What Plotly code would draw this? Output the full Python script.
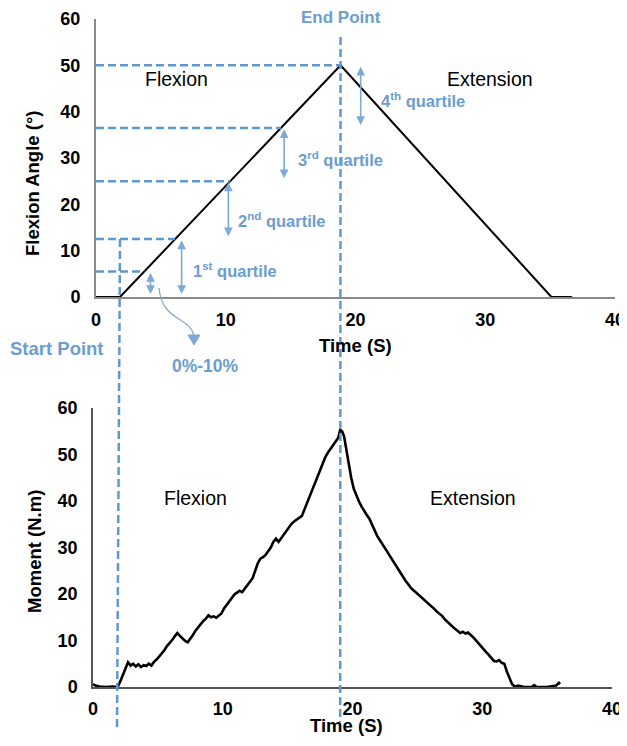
import plotly.graph_objects as go

# ---------------- data ----------------
angle_time = [0, 1.85, 18.85, 35.1, 36.7]
angle_deg = [0, 0, 50, 0, 0]

quartile_levels = [0, 5.5, 12.5, 25, 36.5, 50]
quartile_labels = ["1<sup>st</sup> quartile", "2<sup>nd</sup> quartile",
                   "3<sup>rd</sup> quartile", "4<sup>th</sup> quartile"]

moment_time = [0.0, 0.2, 0.5, 1.0, 1.5, 1.9, 2.1, 2.3, 2.5, 2.7, 2.9, 3.1, 3.3, 3.5, 3.7, 3.9,
               4.1, 4.3, 4.5, 4.7, 4.9, 5.1, 5.3, 5.5, 5.7, 5.9, 6.1, 6.3, 6.5, 6.7, 6.9, 7.1,
               7.3, 7.5, 7.7, 7.9, 8.1, 8.3, 8.5, 8.7, 8.9, 9.1, 9.3, 9.5, 9.7, 9.9, 10.1, 10.3,
               10.5, 10.7, 10.9, 11.1, 11.3, 11.5, 11.7, 11.9, 12.1, 12.3, 12.5, 12.7, 12.9, 13.1,
               13.3, 13.5, 13.7, 13.9, 14.1, 14.3, 14.5, 14.7, 14.9, 15.1, 15.3, 15.5, 15.7, 15.9,
               16.1, 16.3, 16.5, 16.7, 16.9, 17.1, 17.3, 17.5, 17.7, 17.9, 18.1, 18.3, 18.5, 18.7,
               18.9, 19.05, 19.2, 19.35, 19.5, 19.7, 19.9, 20.1, 20.3, 20.5, 20.7, 20.9, 21.1, 21.3,
               21.5, 21.7, 21.9, 22.1, 22.3, 22.5, 22.7, 22.9, 23.1, 23.3, 23.5, 23.7, 23.9, 24.1,
               24.3, 24.5, 24.7, 24.9, 25.1, 25.3, 25.5, 25.7, 25.9, 26.1, 26.3, 26.5, 26.7, 26.9,
               27.1, 27.3, 27.5, 27.7, 27.9, 28.1, 28.3, 28.5, 28.7, 28.9, 29.1, 29.3, 29.5, 29.7,
               29.9, 30.1, 30.3, 30.5, 30.7, 30.9, 31.1, 31.3, 31.5, 31.7, 31.9, 32.1, 32.3, 32.5,
               32.8, 33.2, 33.8, 34.0, 34.2, 35.0, 35.4, 35.7, 35.9, 36.0]
moment_nm = [0.6, 0.3, 0.1, 0.0, 0.1, 0.0, 1.2, 2.6, 3.8, 5.3, 4.6, 5.0, 4.4, 4.9, 4.3, 4.7,
             4.5, 5.0, 4.6, 5.4, 5.9, 6.5, 7.3, 7.9, 8.8, 9.4, 10.1, 10.9, 11.6, 11.0, 10.4, 9.9,
             9.6, 10.3, 11.2, 12.1, 12.8, 13.6, 14.2, 14.7, 15.4, 15.0, 15.2, 14.9, 15.3, 15.8, 16.9, 17.6,
             18.4, 19.2, 19.9, 20.3, 20.7, 20.4, 21.2, 22.0, 22.6, 23.4, 25.0, 26.6, 27.6, 27.9,
             28.4, 29.1, 30.0, 31.2, 31.9, 31.2, 32.0, 32.9, 33.5, 34.3, 35.1, 35.6, 36.0, 36.3,
             36.8, 38.2, 39.6, 41.0, 42.4, 43.9, 45.3, 46.9, 48.3, 49.4, 50.4, 51.2, 52.1, 53.0,
             53.6, 55.3, 55.0, 53.9, 51.5, 48.0, 45.0, 42.6, 41.1, 39.9, 38.8, 37.8, 37.0, 36.2,
             35.0, 33.6, 32.5, 31.6, 30.8, 30.0, 29.0, 28.1, 27.2, 26.3, 25.4, 24.4, 23.6, 22.8,
             22.1, 21.3, 20.8, 20.3, 19.8, 19.3, 18.9, 18.5, 18.0, 17.3, 16.8, 16.2, 15.8, 15.3,
             14.6, 14.0, 13.4, 13.0, 12.5, 12.0, 11.6, 11.9, 11.5, 11.7, 11.3, 10.7, 10.1, 9.4,
             8.7, 8.0, 7.5, 6.9, 6.2, 5.6, 5.5, 5.8, 5.2, 5.0, 3.3, 1.8, 0.6, 0.1,
             0.3, 0.0, 0.0, 0.4, 0.0, 0.0, 0.2, 0.3, 0.9, 0.6]

x_ticks = [0, 10, 20, 30, 40]
y_ticks = [0, 10, 20, 30, 40, 50, 60]

# ---------------- layout helpers ----------------
# the page body has an 8px margin on every side, so the figure is drawn 8px in from the corner
OFF = 8
W, H = 627 - OFF, 746 - 2 * OFF
PLOT_L, PLOT_R, PLOT_T, PLOT_B = 93, 615, 19, 687   # plot area in window pixels
ML, MT = PLOT_L - OFF, PLOT_T - OFF
PW, PH = PLOT_R - PLOT_L, PLOT_B - PLOT_T
MR, MB = W - ML - PW, H - MT - PH
TOP_XD = [3 / PW, 1.0]
BOT_XD = [0.0, (PW - 3) / PW]
TOP_YD = [390 / PH, 1.0]
BOT_YD = [0.0, 279 / PH]
XR, YR = 40.0, 60.0


def px_x(px):
    return (px - PLOT_L) / PW


def px_y(py):
    return (PLOT_B - py) / PH


def data_px(t, dom):
    return dom[0] + t / XR * (dom[1] - dom[0])


def data_py(v, dom):
    return dom[0] + v / YR * (dom[1] - dom[0])


BLUE = "#5F98CF"
BLUE_T = "#6A9ED2"
BLUE_A = "#7BAAD8"
FONT = "Liberation Sans, Arial, sans-serif"

fig = go.Figure()
fig.add_trace(go.Scatter(x=angle_time, y=angle_deg, mode="lines",
                         line=dict(color="black", width=2), xaxis="x", yaxis="y",
                         showlegend=False, hoverinfo="skip"))
fig.add_trace(go.Scatter(x=moment_time, y=moment_nm, mode="lines",
                         line=dict(color="black", width=2.6), xaxis="x2", yaxis="y2",
                         showlegend=False, hoverinfo="skip"))

start_t, peak_t, peak_v = angle_time[1], angle_time[2], angle_deg[2]
moment_peak_t = moment_time[moment_nm.index(max(moment_nm))]

shapes = []
# horizontal dashed guides to the flexion line
for lv in quartile_levels[1:]:
    xe = start_t + lv / peak_v * (peak_t - start_t)
    shapes.append(dict(type="line", xref="x", yref="y", x0=0, x1=xe, y0=lv, y1=lv,
                       line=dict(color=BLUE, width=2.5, dash="8px,4px"), layer="above"))
# start point vertical line
shapes.append(dict(type="line", xref="paper", yref="paper",
                   x0=data_px(start_t, TOP_XD), y0=data_py(quartile_levels[2], TOP_YD),
                   x1=data_px(start_t, BOT_XD), y1=px_y(730),
                   line=dict(color=BLUE, width=2.5, dash="8px,4px")))
# end point vertical line
shapes.append(dict(type="line", xref="paper", yref="paper",
                   x0=data_px(peak_t, TOP_XD), y0=px_y(37),
                   x1=data_px(moment_peak_t, BOT_XD), y1=px_y(722),
                   line=dict(color=BLUE, width=2.5, dash="8px,4px")))
# curved arrow (0%-10%)
p = [(159, 288), (162, 322), (190, 316), (194, 336)]
path = "M {},{} C {},{} {},{} {},{}".format(*[v for pt in p for v in (px_x(pt[0]), px_y(pt[1]))])
shapes.append(dict(type="path", xref="paper", yref="paper", path=path,
                   line=dict(color="#8FA9C4", width=1.3)))
tri = [(188, 335), (200, 335), (194, 345)]
tpath = "M {},{} L {},{} L {},{} Z".format(*[v for pt in tri for v in (px_x(pt[0]), px_y(pt[1]))])
shapes.append(dict(type="path", xref="paper", yref="paper", path=tpath,
                   fillcolor=BLUE_A, line=dict(color=BLUE_A, width=1)))

ann = []
# double-headed arrows
arrow_x = [4.2, 6.6, 10.2, 14.5, 20.4]
arrow_ranges = [(quartile_levels[0], quartile_levels[1]), (quartile_levels[0], quartile_levels[2]),
                (quartile_levels[2], quartile_levels[3]), (quartile_levels[3], quartile_levels[4]),
                (quartile_levels[4], quartile_levels[5])]
for xa, (lo, hi) in zip(arrow_x, arrow_ranges):
    ann.append(dict(x=xa, y=hi - 0.3, ax=xa, ay=lo + 0.3, xref="x", yref="y", axref="x", ayref="y",
                    text="", showarrow=True, arrowside="end+start", arrowhead=2, arrowsize=1.1,
                    arrowwidth=1.6, arrowcolor=BLUE_A, standoff=0, startstandoff=0))

qfont = dict(family=FONT, size=16.5, color=BLUE_T, weight="bold")
label_pos = [(7.3, 5.8), (10.8, 16.6), (15.4, 29.8), (21.8, 42.5)]
for (xl, yl), txt in zip(label_pos, quartile_labels):
    ann.append(dict(x=xl, y=yl, xref="x", yref="y", text=txt, showarrow=False,
                    xanchor="left", yanchor="middle", font=qfont))


def paper_text(px, py, text, font, angle=0):
    return dict(x=px_x(px), y=px_y(py), xref="paper", yref="paper", text=text,
                xanchor="center", yanchor="middle", textangle=angle,
                showarrow=False, font=font)


ann.append(paper_text(341, 17, "End Point", dict(family=FONT, size=17, color=BLUE_T, weight="bold")))
ann.append(paper_text(57, 348, "Start Point", dict(family=FONT, size=18.5, color=BLUE_T, weight="bold")))
ann.append(paper_text(205, 366, "0%-10%", dict(family=FONT, size=17.5, color=BLUE_T, weight="bold")))

pfont = dict(family=FONT, size=19.5, color="black")
ann.append(dict(x=6.2, y=47, xref="x", yref="y", text="Flexion", showarrow=False, font=pfont))
ann.append(dict(x=30.4, y=47, xref="x", yref="y", text="Extension", showarrow=False, font=pfont))
ann.append(dict(x=7.9, y=40.6, xref="x2", yref="y2", text="Flexion", showarrow=False, font=pfont))
ann.append(dict(x=29.3, y=40.6, xref="x2", yref="y2", text="Extension", showarrow=False, font=pfont))

afont = dict(family=FONT, size=18.5, color="black", weight="bold")
ann.append(paper_text(32, 184, "Flexion Angle (°)", afont, -90))
ann.append(paper_text(34, 552, "Moment (N.m)", afont, -90))
ann.append(paper_text(355, 345, "Time (S)", afont))
ann.append(paper_text(346, 725, "Time (S)", afont))

tickfont = dict(family=FONT, size=18, color="black", weight="bold")


def axis(dom, rng, ticks, anchor, color, width, ticklen):
    return dict(domain=dom, range=rng, tickvals=ticks, showgrid=False, zeroline=False,
                showline=True, linecolor=color, linewidth=width, ticks="outside", ticklen=ticklen,
                tickcolor="rgba(0,0,0,0)", tickfont=tickfont, anchor=anchor, fixedrange=True)


fig.update_layout(
    width=W, height=H, margin=dict(l=ML, r=MR, t=MT, b=MB, autoexpand=False),
    plot_bgcolor="white", paper_bgcolor="white", showlegend=False,
    xaxis=axis(TOP_XD, [0, XR], x_ticks, "y", "#8a8a8a", 2, 5),
    yaxis=axis(TOP_YD, [0, YR], y_ticks, "x", "#8a8a8a", 2, 10),
    xaxis2=axis(BOT_XD, [0, XR], x_ticks, "y2", "#555555", 1.5, 5),
    yaxis2=axis(BOT_YD, [0, YR], y_ticks, "x2", "#555555", 1.5, 10),
    shapes=shapes, annotations=ann,
)

fig.write_html("out.html")
